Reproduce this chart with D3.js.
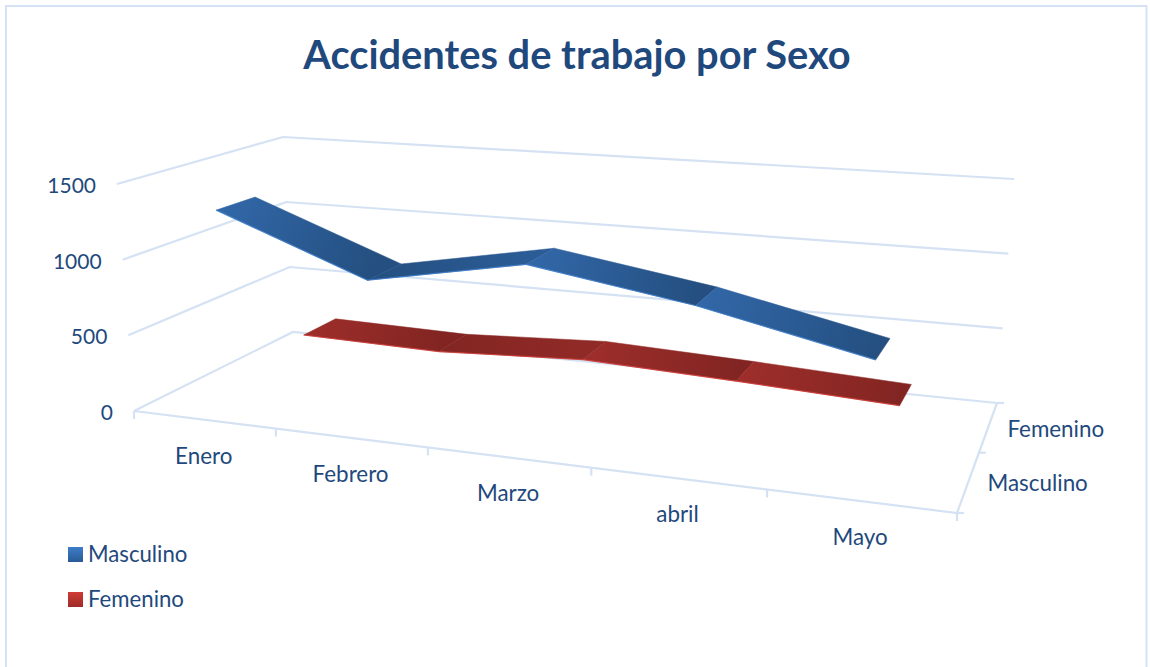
<!DOCTYPE html>
<html><head><meta charset="utf-8">
<script src="https://cdn.jsdelivr.net/npm/d3@7/dist/d3.min.js"></script>
<style>html,body{margin:0;padding:0;background:#fff}svg{display:block}text{font-family:Lato,"Open Sans",sans-serif;fill:#1f497d}</style>
</head><body><svg id="c" width="1150" height="667"></svg>
<script>
const title = "Accidentes de trabajo por Sexo";
const months = ["Enero","Febrero","Marzo","abril","Mayo"];
const seriesNames = ["Masculino","Femenino"];
const masculino = [1310,930,1115,950,725];
const femenino = [215,195,240,200,150];
const valueTicks = [0,500,1000,1500];
const seriesValues = [masculino,femenino];
const colorsLight = ["#3268a9","#9e2e2b"];
const colorsDark  = ["#244f80","#822522"];
const edgeColors  = ["#3b7ccb","#cf3a35"];
const legendTop   = ["#3e7dca","#d03c36"];
const legendBot   = ["#2a5a95","#9f2b28"];
const gridColor = "#d5e2f3";

const svg = d3.select("#c");
function quad(p){ // unit square -> quadrilateral p00,p10,p11,p01
  const [[x0,y0],[x1,y1],[x2,y2],[x3,y3]] = p;
  const dx1=x1-x2,dx2=x3-x2,dx3=x0-x1+x2-x3,dy1=y1-y2,dy2=y3-y2,dy3=y0-y1+y2-y3;
  const den=dx1*dy2-dx2*dy1;
  const g=(dx3*dy2-dx2*dy3)/den,h=(dx1*dy3-dx3*dy1)/den;
  const a=x1-x0+g*x1,b=x3-x0+h*x3,c=x0,d=y1-y0+g*y1,e=y3-y0+h*y3,f=y0;
  return (u,v)=>{const w=g*u+h*v+1;return [(a*u+b*v+c)/w,(d*u+e*v+f)/w];};
}
const floorQ = quad([[134,411],[957,513],[997,403],[293,332]]);
const topQ   = quad([[117,184],[974,244],[1014,179],[283,137]]);
const uScale = d3.scaleBand().domain(months).range([0,1]);
const dScale = d3.scaleBand().domain(seriesNames).range([0,1]);
const vScale = d3.scaleLinear().domain([0,1500]).range([0,1]);
function proj(u,d,val){
  const a=floorQ(u,d),b=topQ(u,d),t=vScale(val);
  return [a[0]+(b[0]-a[0])*t,a[1]+(b[1]-a[1])*t];
}
const uMid = m=>uScale(m)+uScale.bandwidth()/2;
const dMid = s=>dScale(s)+dScale.bandwidth()/2;
const line = d3.line();
const defs = svg.append("defs");

// frame
svg.append("rect").attr("x",6).attr("y",6).attr("width",1140.5).attr("height",700)
  .attr("fill","none").attr("stroke",gridColor).attr("stroke-width",2);

svg.append("text").attr("x",577).attr("y",69).attr("text-anchor","middle")
  .attr("font-size",39.8).attr("font-weight",700).text(title);

// walls
const grid = svg.append("g").attr("fill","none").attr("stroke",gridColor).attr("stroke-width",2.2);
valueTicks.forEach(v=>{
  grid.append("path").attr("d",line([proj(0,0,v),proj(0,1,v),proj(1,1,v)]));
});
// floor front and side
grid.append("path").attr("d",line([proj(0,0,0),proj(1,0,0),proj(1,1,0)]));
uScale.domain().forEach(m=>{
  const p=proj(uScale(m),0,0);
  grid.append("path").attr("d",line([p,[p[0],p[1]+8]]));
});
{const p=proj(1,0,0);grid.append("path").attr("d",line([p,[p[0],p[1]+8]]));}
[0,0.5,1].forEach(d=>{
  const p=proj(1,d,0);
  grid.append("path").attr("d",line([p,[p[0]+7,p[1]]]));
});

// ribbons (back series first)
const halfDepth = 0.115;
seriesNames.forEach((s,si)=>{
  const vals=seriesValues[si], g=svg.append("g");
  const dc=dMid(s);
  months.slice(0,-1).forEach((m,i)=>{
    const u0=uMid(m),u1=uMid(months[i+1]);
    const f0=proj(u0,dc-halfDepth,vals[i]),b0=proj(u0,dc+halfDepth,vals[i]);
    const f1=proj(u1,dc-halfDepth,vals[i+1]),b1=proj(u1,dc+halfDepth,vals[i+1]);
    const id="g"+si+"_"+i;
    const flat = vals[i+1]>vals[i]*1.1;      // rising segments face away from the light
    const gr=defs.append("linearGradient").attr("id",id).attr("gradientUnits","userSpaceOnUse")
      .attr("x1",f0[0]).attr("y1",f0[1]).attr("x2",f1[0]).attr("y2",f1[1]);
    gr.append("stop").attr("offset",0).attr("stop-color",flat?colorsDark[si]:colorsLight[si]);
    gr.append("stop").attr("offset",1).attr("stop-color",flat?d3.interpolateRgb(colorsDark[si],colorsLight[si])(.5):colorsDark[si]);
    g.append("path").attr("d",line([f0,f1,b1,b0])+"Z").attr("fill","url(#"+id+")").attr("stroke","url(#"+id+")").attr("stroke-width",.5);
    g.append("path").attr("d",line([f0,f1])).attr("fill","none").attr("stroke",edgeColors[si]).attr("stroke-width",1.2).attr("stroke-opacity",.8);
  });
});

// axis labels
months.forEach(m=>{
  const p=proj(uMid(m),0,0);
  svg.append("text").attr("x",p[0]).attr("y",p[1]+44).attr("text-anchor","middle").attr("font-size",22.4).text(m);
});
valueTicks.forEach(v=>{
  const p=proj(0,0,v);
  svg.append("text").attr("x",p[0]-21).attr("y",p[1]+9).attr("text-anchor","end").attr("font-size",21).text(v);
});
seriesNames.forEach(s=>{
  const p=proj(1,dMid(s),0);
  svg.append("text").attr("x",p[0]+19).attr("y",p[1]+10).attr("font-size",22.4).text(s);
});

// legend
const legY = d3.scalePoint().domain(seriesNames).range([547,592]);
seriesNames.forEach((s,si)=>{
  const gr=defs.append("linearGradient").attr("id","l"+si).attr("x1",0).attr("y1",0).attr("x2",0).attr("y2",1);
  gr.append("stop").attr("offset",0).attr("stop-color",legendTop[si]);
  gr.append("stop").attr("offset",1).attr("stop-color",legendBot[si]);
  svg.append("rect").attr("x",68).attr("y",legY(s)).attr("width",15).attr("height",15).attr("fill","url(#l"+si+")");
  svg.append("text").attr("x",88).attr("y",legY(s)+15).attr("font-size",22.2).text(s);
});
</script></body></html>
